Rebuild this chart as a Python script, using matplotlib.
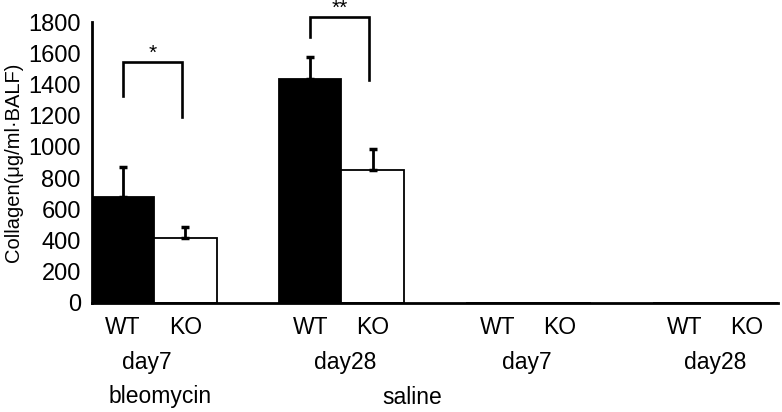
import matplotlib.pyplot as plt
import matplotlib.transforms as mtransforms

plt.rcParams['font.family'] = ['Liberation Sans', 'DejaVu Sans']

# данные
genotypes = ['WT', 'KO', 'WT', 'KO', 'WT', 'KO', 'WT', 'KO']
days = ['day7', 'day28', 'day7', 'day28']
treatments = ['bleomycin', 'saline']
collagen = [681, 416, 1435, 850, 0, 0, 0, 0]
collagen_err = [192, 69, 139, 137, 0, 0, 0, 0]
bar_colors = ['black', 'white', 'black', 'white', 'black', 'white', 'black', 'white']

# значимость: (левый бар, правый бар, низ левой ноги, верх, низ правой ноги, метка)
brackets = [
    (0, 1, 1326, 1544, 1191, '*'),
    (2, 3, 1706, 1830, 1428, '**'),
]

# положения по оси x (в слотах)
bar_x = [0.5, 1.5, 3.5, 4.5, 6.5, 7.5, 9.5, 10.5]
day_x = [0.88, 4.06, 6.98, 10.0]
treat_x = [1.09, 5.13]

fig = plt.figure(figsize=(7.82, 4.12), dpi=100)
ax = fig.add_axes([0.1176, 0.2646, 0.877, 0.682])

ax.bar(bar_x, collagen, width=1.0, color=bar_colors, edgecolor='black',
       linewidth=1.3, zorder=2)
for x, v, e in zip(bar_x, collagen, collagen_err):
    if e > 0:
        ax.errorbar(x, v, yerr=[[0], [e]], fmt='none', ecolor='black',
                    elinewidth=2, capsize=3, capthick=2.5, zorder=3)

for i, j, yl, yt, yr, mark in brackets:
    xl, xr = bar_x[i], bar_x[j] - 0.05
    ax.plot([xl, xl, xr, xr], [yl, yt, yt, yr], color='black', lw=1.9,
            clip_on=False, solid_joinstyle='miter', zorder=4)
    ax.text((xl + xr) / 2, yt + 55, mark, ha='center', va='center',
            fontsize=15, clip_on=False)

ax.set_xlim(0, 11.0)
ax.set_ylim(0, 1800)
ax.set_yticks(range(0, 1801, 200))
ax.set_xticks([])
ax.tick_params(axis='y', length=0, pad=8, labelsize=17)
for s in ['top', 'right']:
    ax.spines[s].set_visible(False)
for s in ['left', 'bottom']:
    ax.spines[s].set_linewidth(2)

fig.text(14 / 782, 1 - 162 / 412, 'Collagen(μg/ml·BALF)', rotation=90,
         rotation_mode='anchor', ha='center', va='center', fontsize=14.5)

trans = mtransforms.blended_transform_factory(ax.transData, fig.transFigure)
for x, g in zip(bar_x, genotypes):
    ax.text(x, 1 - 328 / 412, g, transform=trans, ha='center', va='center',
            fontsize=16.5)
for x, d in zip(day_x, days):
    ax.text(x, 1 - 362 / 412, d, transform=trans, ha='center', va='center',
            fontsize=16.5)
for x, t in zip(treat_x, treatments):
    ax.text(x, 1 - 397 / 412, t, transform=trans, ha='center', va='center',
            fontsize=16.5)

fig.savefig('out.png', dpi=100)
